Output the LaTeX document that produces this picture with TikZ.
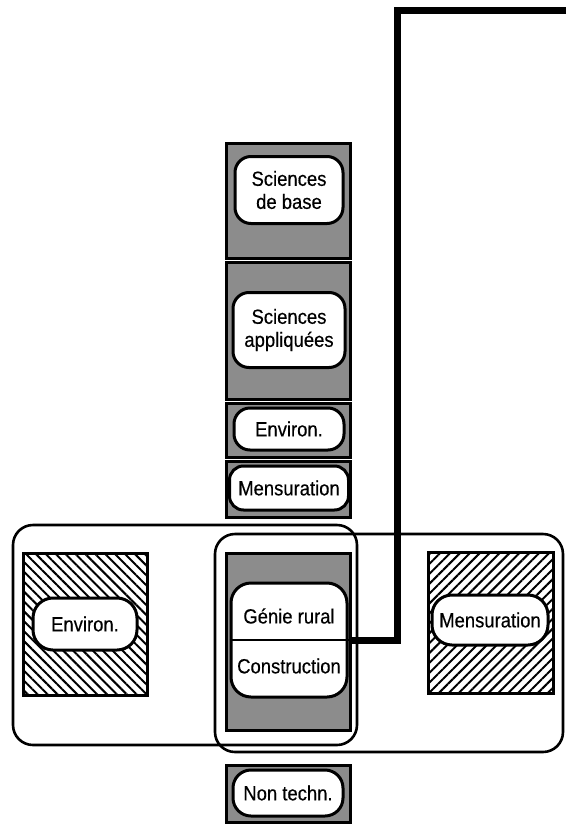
\documentclass[tikz,border=0pt]{standalone}
\usepackage{fontspec}
\setmainfont{Liberation Sans}
\newfontfamily\helv[FakeStretch=0.9,FakeBold=0.4]{Liberation Sans}
\usetikzlibrary{patterns.meta}
\begin{document}
\begin{tikzpicture}[x=1pt,y=-1pt,
  graybox/.style={draw=black,line width=3pt,fill=black!45},
  hatchL/.style={draw=black,line width=3pt,fill=white,pattern={Lines[angle=-45,distance=7pt,line width=2pt]}},
  hatchR/.style={draw=black,line width=3pt,fill=white,pattern={Lines[angle=45,distance=7pt,line width=2pt]}},
  pill/.style={draw=black,line width=3pt,fill=white,rounded corners=16pt,inner sep=0pt,align=center,
     font=\helv\fontsize{20.5}{23}\selectfont},
  lbl/.style={inner sep=0pt,font=\helv\fontsize{20.5}{23}\selectfont},
  group/.style={draw=black,line width=2.6pt,rounded corners=20pt},
  link/.style={draw=black,line width=7pt,line join=miter}]
\useasboundingbox (0,0) rectangle (566,825);
% column boxes
\draw[graybox] (226,143) rectangle (350,258);
\draw[graybox] (226,262) rectangle (350,399);
\draw[graybox] (226,403) rectangle (350,457);
\draw[graybox] (226,461) rectangle (350,517);
\node[pill,minimum width=108pt,minimum height=67pt] (sb) at (289,190) {Sciences\\de base};
\node[pill,minimum width=112pt,minimum height=75pt] (sa) at (289,330) {Sciences\\appliquées};
\node[pill,minimum width=110pt,minimum height=42pt] (en1) at (289,429) {Environ.};
\node[pill,minimum width=119pt,minimum height=44pt,rounded corners=14pt] (me1) at (289,488) {Mensuration};
% group boxes
\draw[group] (13,525) rectangle (357,745);
\draw[group] (215,534) rectangle (563,752);
% left hatched
\draw[hatchL] (23,553) rectangle (147,695);
\node[pill,minimum width=104pt,minimum height=52pt,rounded corners=20pt] (en2) at (85,624) {Environ.};
% right hatched
\draw[hatchR] (428,552) rectangle (553,693);
\node[pill,minimum width=116pt,minimum height=50pt,rounded corners=20pt] (me2) at (490,620) {Mensuration};
% middle gray
\draw[graybox] (226,553) rectangle (350,730);
\node[pill,minimum width=116pt,minimum height=114pt,rounded corners=20pt] (gc) at (289,640) {};
\draw[line width=2.4pt] (gc.west) -- (gc.east);
\node[lbl] (gr) at (289,616) {Génie rural};
\node[lbl] (co) at (289,666) {Construction};
% non techn
\draw[graybox] (226,765) rectangle (350,822);
\node[pill,minimum width=110pt,minimum height=46pt,rounded corners=18pt] (nt) at (288,793) {Non techn.};
% thick link
\coordinate (tr) at (566,10);
\coordinate (c1) at (397,10);
\draw[link] (tr) -- (c1) |- (gc.east);
\end{tikzpicture}
\end{document}
